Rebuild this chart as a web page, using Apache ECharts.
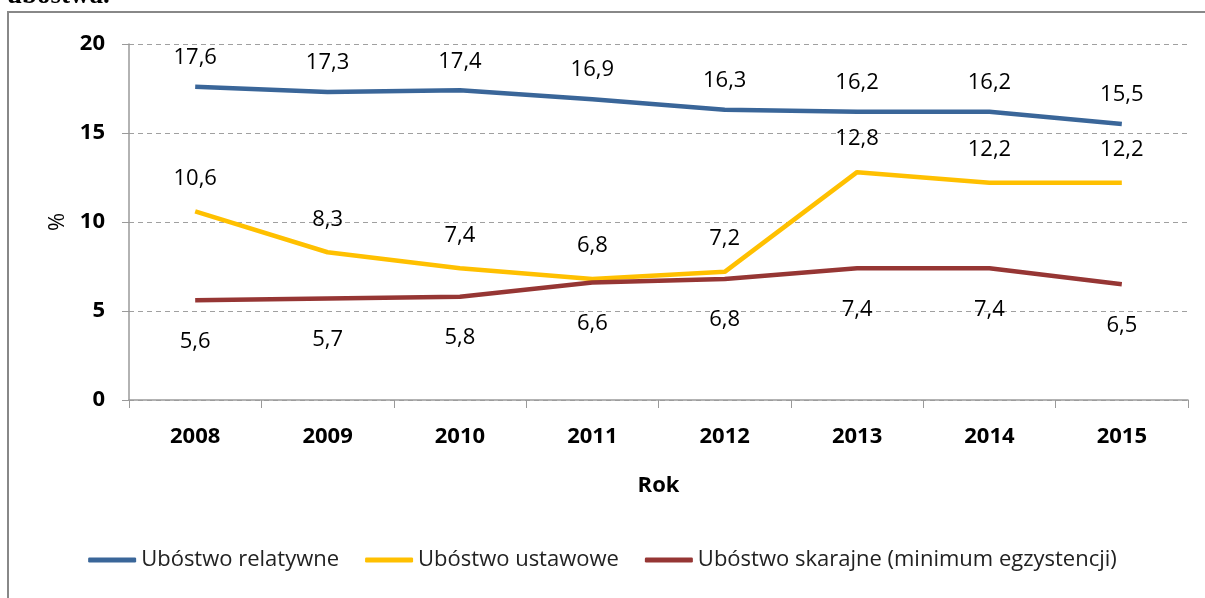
<!DOCTYPE html>
<html>
<head>
<meta charset="utf-8">
<script src="https://cdn.jsdelivr.net/npm/echarts@6/dist/echarts.min.js"></script>
<style>
  html, body { margin: 0; padding: 0; background: #fff; }
  #chart { width: 1205px; height: 598px; }
</style>
</head>
<body>
<div id="chart"></div>
<script>
// dane
var lata = ['2008', '2009', '2010', '2011', '2012', '2013', '2014', '2015'];
var relatywne = [17.6, 17.3, 17.4, 16.9, 16.3, 16.2, 16.2, 15.5];
var ustawowe = [10.6, 8.3, 7.4, 6.8, 7.2, 12.8, 12.2, 12.2];
var skrajne = [5.6, 5.7, 5.8, 6.6, 6.8, 7.4, 7.4, 6.5];
var nazwy = ['Ubóstwo relatywne', 'Ubóstwo ustawowe', 'Ubóstwo skarajne (minimum egzystencji)'];

var font = '"Open Sans", "Noto Sans", sans-serif';
var chart = echarts.init(document.getElementById('chart'));

function przecinek(p) {
    return String(p.value).replace('.', ',');
}

function seria(nazwa, dane, kolor, pozycja, odstep) {
    return {
        name: nazwa, type: 'line', data: dane,
        symbol: 'circle', symbolSize: 0, showSymbol: true,
        color: kolor,
        lineStyle: { width: 4.5 },
        label: {
            show: true, position: pozycja, distance: odstep,
            fontSize: 22, color: '#000', fontFamily: font,
            formatter: przecinek
        }
    };
}

var option = {
    animation: false,
    textStyle: { fontFamily: font },
    graphic: [
        {
            type: 'text', left: 7, top: -17,
            style: { text: 'ubóstwa.', font: 'bold 27px "Liberation Serif", serif', fill: '#000' }
        },
        {
            type: 'rect', shape: { x: 8, y: 12, width: 1300, height: 700 },
            style: { fill: 'none', stroke: '#888', lineWidth: 2 }, silent: true
        }
    ],
    grid: { left: 129, right: 17, top: 44, bottom: 198 },
    legend: {
        bottom: 22,
        left: 'center',
        itemWidth: 48,
        itemHeight: 5,
        itemGap: 26,
        icon: 'roundRect',
        textStyle: { fontSize: 22, color: '#222', fontFamily: font },
        data: nazwy
    },
    xAxis: {
        type: 'category',
        data: lata,
        boundaryGap: true,
        name: 'Rok',
        nameLocation: 'middle',
        nameGap: 75,
        nameTextStyle: { fontSize: 22, fontWeight: 'bold', color: '#000' },
        axisLine: { lineStyle: { color: '#9a9a9a', width: 1.5 } },
        axisTick: { show: true, length: 8, lineStyle: { color: '#9a9a9a' } },
        axisLabel: { fontSize: 22, fontWeight: 'bold', color: '#000', margin: 26 }
    },
    yAxis: {
        type: 'value',
        min: 0, max: 20, interval: 5,
        name: '%',
        nameLocation: 'middle',
        nameGap: 58,
        nameRotate: 90,
        nameTextStyle: { fontSize: 22, color: '#000' },
        axisLine: { show: true, lineStyle: { color: '#9a9a9a', width: 1.5 } },
        axisTick: { show: true, length: 7, lineStyle: { color: '#9a9a9a' } },
        splitLine: { show: true, lineStyle: { type: [5, 4], color: '#a0a0a0', width: 1 } },
        axisLabel: { fontSize: 22, fontWeight: 'bold', color: '#000', margin: 24 }
    },
    series: [
        seria(nazwy[0], relatywne, '#3a6699', 'top', 18),
        seria(nazwy[1], ustawowe, '#ffc000', 'top', 22),
        seria(nazwy[2], skrajne, '#963634', 'bottom', 30)
    ]
};
chart.setOption(option);
</script>
</body>
</html>
